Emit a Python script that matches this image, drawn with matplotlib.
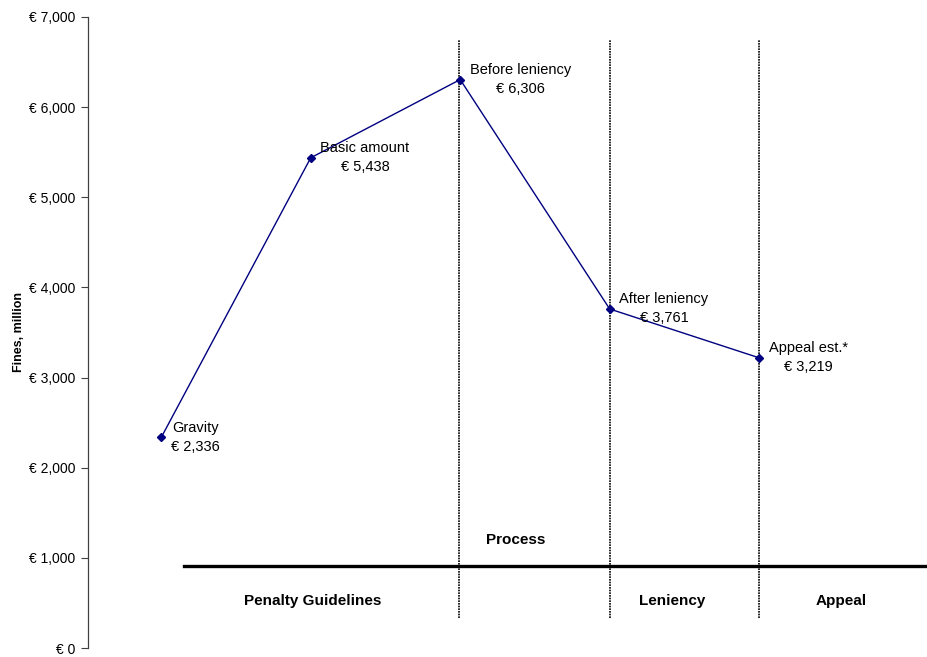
import numpy as np
import matplotlib
matplotlib.use("Agg")
import matplotlib.pyplot as plt
from matplotlib.ticker import FuncFormatter

plt.rcParams['font.family'] = ['Liberation Sans', 'DejaVu Sans']

# Data
stages = ['Gravity', 'Basic amount', 'Before leniency', 'After leniency', 'Appeal est.*']
fines = [2336, 5438, 6306, 3761, 3219]
phases = ['Penalty Guidelines', 'Leniency', 'Appeal']
process_label = 'Process'

x = np.arange(len(stages))

fig = plt.figure(figsize=(9.27, 6.57), dpi=100)
ax = fig.add_axes([88 / 927, 9 / 657, 839 / 927, 631 / 657])

ax.plot(x, fines, color='#000080', linewidth=1.0, marker='D', markersize=4,
        markerfacecolor='#000080', markeredgecolor='#000080', zorder=3)

# point labels
for xi, yi, name in zip(x, fines, stages):
    ax.annotate(f"{name}\n€ {yi:,}", (xi, yi), xytext=(7, 0), textcoords='offset points',
                ha='left', va='center', multialignment='center', fontsize=10.5,
                linespacing=1.45)

# vertical dotted separators
for xv in [1.99, 3.0, 4.0]:
    ax.plot([xv, xv], [330, 6740], color='black', linestyle=(0, (1, 0.6)), linewidth=1.2,
            zorder=2)

# horizontal bar line
ax.plot([0.15, 5.2], [905, 905], color='black', linewidth=2.4, zorder=2)

# phase labels
ax.text(2.37, 1200, process_label, ha='center', va='center', fontsize=11, fontweight='bold')
ax.text(1.01, 520, phases[0], ha='center', va='center', fontsize=11, fontweight='bold')
ax.text(3.42, 520, phases[1], ha='center', va='center', fontsize=11, fontweight='bold')
ax.text(4.55, 520, phases[2], ha='center', va='center', fontsize=11, fontweight='bold')

ax.set_xlim(-0.49, 5.123)
ax.set_ylim(0, 7000)
ax.set_yticks(np.arange(0, 7001, 1000))
ax.yaxis.set_major_formatter(FuncFormatter(lambda v, p: f"€ {int(v):,}"))
ax.tick_params(axis='y', length=5, width=0.8, labelsize=10, pad=4, color='#404040')
ax.set_xticks([])
for side in ['top', 'right', 'bottom']:
    ax.spines[side].set_visible(False)
ax.spines['left'].set_color('#404040')
ax.spines['left'].set_linewidth(0.9)

ax.set_ylabel('Fines, million', fontsize=9, fontweight='bold', labelpad=3)

fig.savefig('out.png', dpi=100)
